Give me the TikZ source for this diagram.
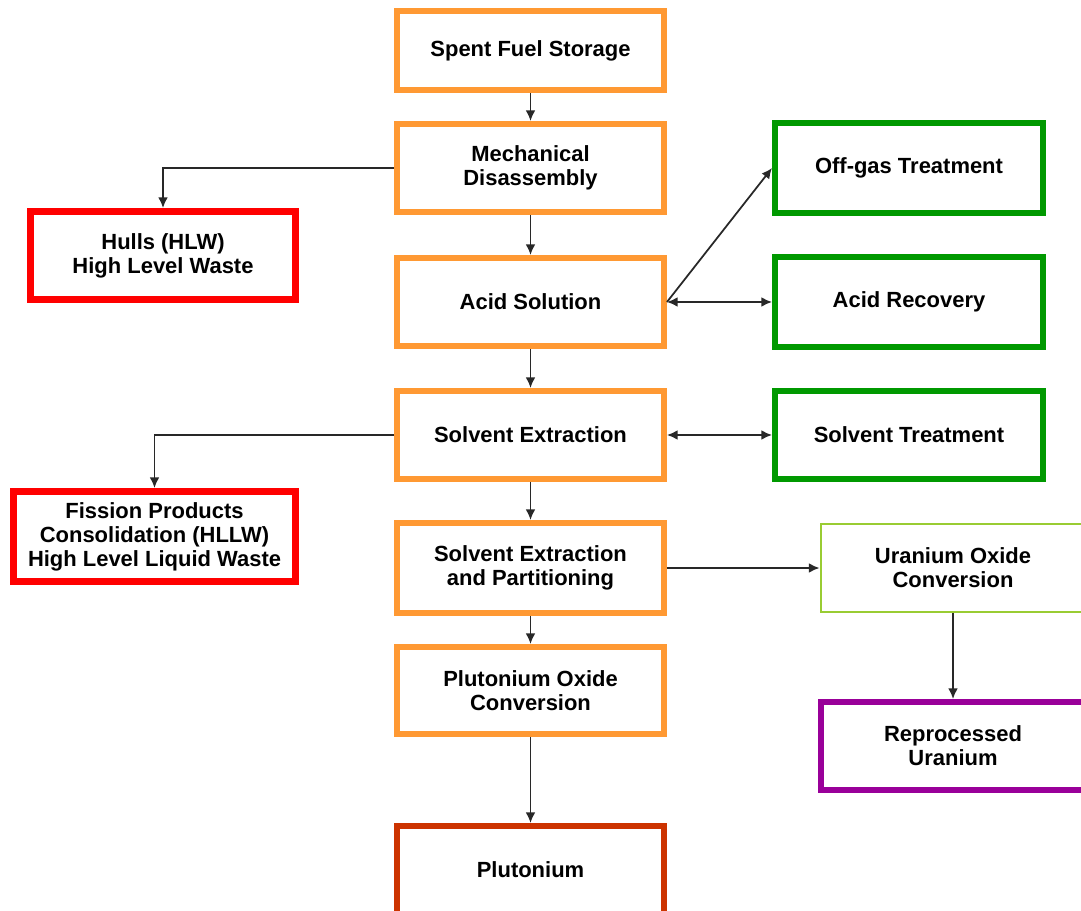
\documentclass[tikz,border=0pt]{standalone}
\usepackage{fontspec}
\setmainfont{Liberation Sans}
\usetikzlibrary{arrows.meta}

\definecolor{boxorange}{RGB}{255,153,51}
\definecolor{boxred}{RGB}{255,0,0}
\definecolor{boxgreen}{RGB}{0,153,0}
\definecolor{boxlime}{RGB}{153,204,51}
\definecolor{boxpurple}{RGB}{153,0,153}
\definecolor{boxrust}{RGB}{204,51,0}
\definecolor{wire}{RGB}{40,40,40}

\tikzset{
  box/.style={rectangle, align=center, inner sep=0pt, text=black,
    font=\fontsize{12.5}{13.7}\selectfont\bfseries},
  stage/.style={box, draw=boxorange, line width=0.12cm,
    minimum width=5.34cm, minimum height=1.76cm},
  waste/.style={box, draw=boxred, line width=0.14cm,
    minimum width=5.3cm, minimum height=1.76cm},
  recycle/.style={box, draw=boxgreen, line width=0.12cm,
    minimum width=5.36cm, minimum height=1.8cm},
  flow/.style={draw=wire, line width=1pt, -{Latex[length=6pt,width=5.5pt]}},
  twoway/.style={flow, {Latex[length=6pt,width=5.5pt]}-{Latex[length=6pt,width=5.5pt]}}
}

\begin{document}
\begin{tikzpicture}[x=0.02cm, y=-0.02cm]
\useasboundingbox (0,0) rectangle (1081,911);

%% main line
\node[stage, minimum height=1.58cm] (sfs) at (530.5, 50.5) {Spent Fuel Storage};
\node[stage] (mech) at (530.5, 168) {Mechanical\\Disassembly};
\node[stage] (acid) at (530.5, 302) {Acid Solution};
\node[stage] (solv) at (530.5, 435) {Solvent Extraction};
\node[stage, minimum height=1.8cm] (part) at (530.5, 568) {Solvent Extraction\\and Partitioning};
\node[stage, minimum height=1.74cm] (puox) at (530.5, 690.5) {Plutonium Oxide\\Conversion};
\node[stage, draw=boxrust] (pu) at (530.5, 870) {Plutonium};

%% wastes
\node[waste] (hulls) at (163, 255.5) {Hulls (HLW)\\High Level Waste};
\node[waste, minimum width=5.64cm, minimum height=1.8cm] (fiss) at (154.5, 536.5)
  {Fission Products\\Consolidation (HLLW)\\High Level Liquid Waste};

%% recycling
\node[recycle] (offgas) at (909, 168) {Off-gas Treatment};
\node[recycle] (acidrec) at (909, 302) {Acid Recovery};
\node[recycle, minimum height=1.76cm] (solvtr) at (909, 435) {Solvent Treatment};

%% uranium
\node[box, draw=boxlime, line width=0.04cm, minimum width=5.3cm,
  minimum height=1.76cm] (uox) at (953, 568) {Uranium Oxide\\Conversion};
\node[box, draw=boxpurple, line width=0.12cm, minimum width=5.3cm,
  minimum height=1.76cm] (repu) at (953, 746) {Reprocessed\\Uranium};

\draw[flow] (sfs) -- (mech);
\draw[flow] (mech) -- (acid);
\draw[flow] (acid) -- (solv);
\draw[flow] (solv) -- (part);
\draw[flow] (part) -- (puox);
\draw[flow] (puox) -- (pu);

\draw[flow] (mech.west) -| (hulls.north);
\draw[flow] (solv.west) -| (fiss.north);

\draw[flow] (acid.east) -- (offgas.west);
\draw[twoway] (acid.east) -- (acidrec.west);
\draw[twoway] (solv.east) -- (solvtr.west);

\draw[flow] (part.east) -- (uox.west);
\draw[flow] (uox.south) -- (repu.north);

\end{tikzpicture}
\end{document}
